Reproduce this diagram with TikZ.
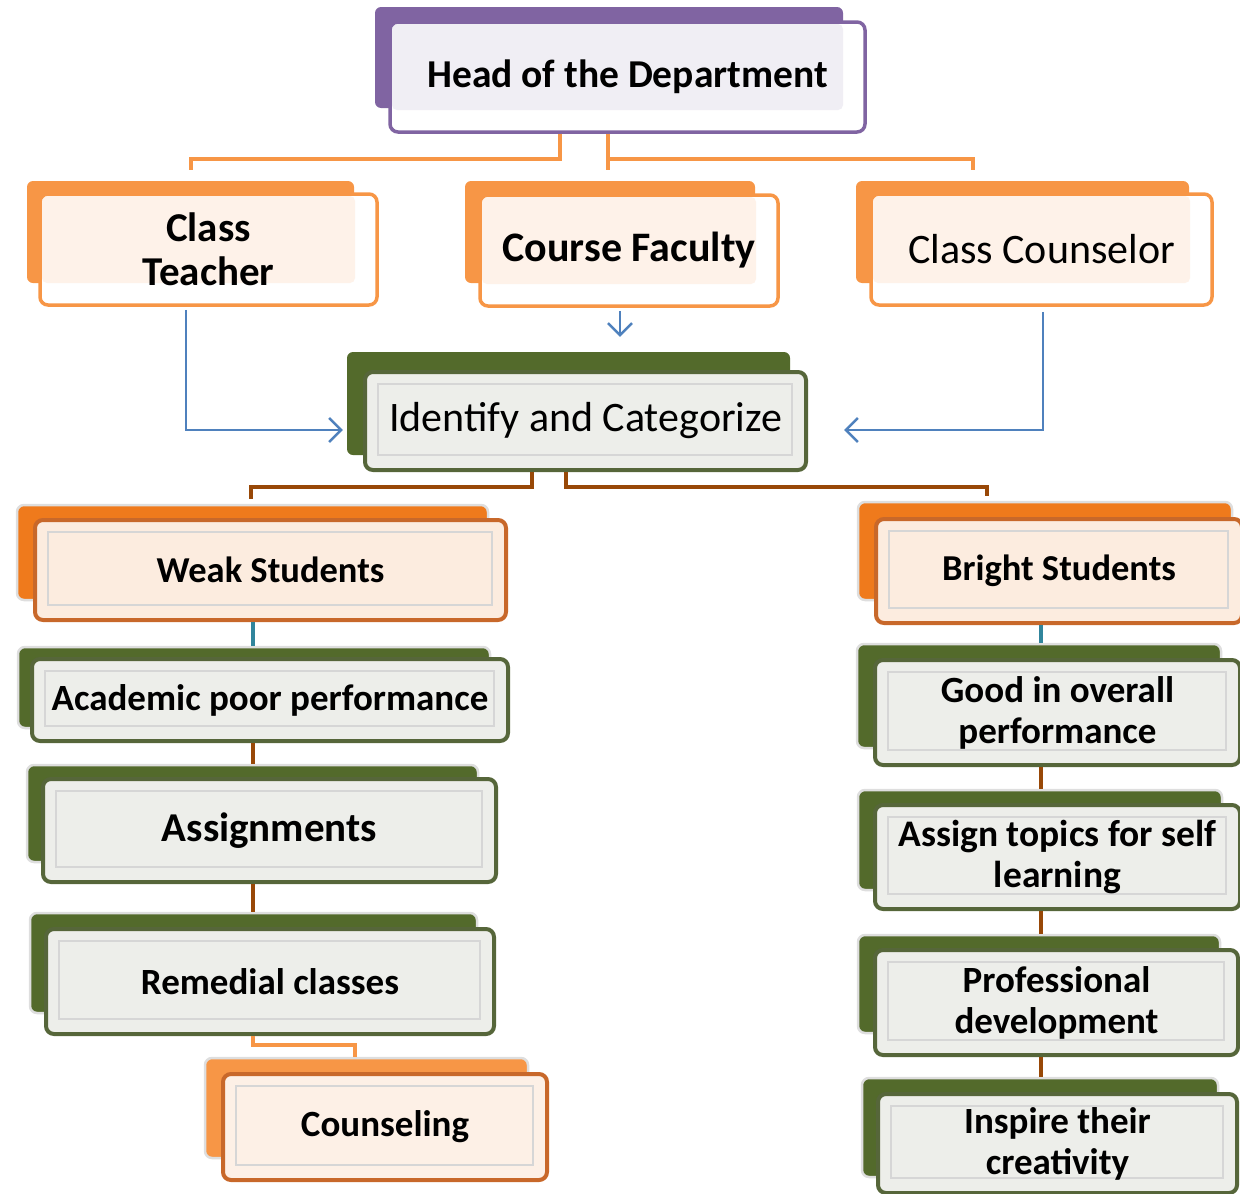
\documentclass[tikz,border=0pt]{standalone}
\usepackage{fontspec}
\setmainfont{Carlito}
\usetikzlibrary{arrows.meta}

\definecolor{hodpurple}{HTML}{8064A2}
\definecolor{hodtint}{HTML}{F0EEF4}
\definecolor{staforange}{HTML}{F79646}
\definecolor{staftint}{HTML}{FEF2E9}
\definecolor{linkblue}{HTML}{4F81BD}
\definecolor{leafgreen}{HTML}{536A2B}
\definecolor{leafedge}{HTML}{56663A}
\definecolor{leaffill}{HTML}{EDEEEA}
\definecolor{grouporange}{HTML}{EF7A1C}
\definecolor{groupedge}{HTML}{C8682A}
\definecolor{groupfill}{HTML}{FCECDF}
\definecolor{cnslfill}{HTML}{FDF0E6}
\definecolor{linkbrown}{HTML}{984807}
\definecolor{linkteal}{HTML}{31859C}

\tikzset{
  backplate/.style={fill=#1, rounded corners=6pt, inner sep=0pt},
  bevelplate/.style={fill=#1, draw=black!13, line width=2.5pt, rounded corners=7pt, inner sep=0pt},
  topface/.style 2 args={draw=#1, line width=3.5pt, fill=white, rounded corners=8pt, inner sep=0pt,
    path picture={\fill[#2, rounded corners=5pt] ([shift={(2pt,-2pt)}]path picture bounding box.north west)
      rectangle ([shift={(-22pt,22pt)}]path picture bounding box.south east);}},
  lowface/.style 2 args={draw=#1, line width=4pt, fill=#2, rounded corners=8pt, inner sep=0pt,
    path picture={\draw[black!16, line width=1.3pt, sharp corners] ([shift={(13pt,-12pt)}]path picture bounding box.north west)
      rectangle ([shift={(-14pt,15pt)}]path picture bounding box.south east);}},
  boldtxt/.style={font=\bfseries\fontsize{#1}{41}\selectfont, align=center},
  plaintxt/.style={font=\fontsize{#1}{41}\selectfont, align=center},
  hodlink/.style={draw=staforange, line width=4pt},
  arrowlink/.style={draw=linkblue, line width=2.5pt, -{Straight Barb[length=12pt,width=24pt]}},
  brownlink/.style={draw=linkbrown, line width=4pt},
  teallink/.style={draw=linkteal, line width=4pt}
}

\begin{document}
\begin{tikzpicture}[x=1pt,y=-1pt]
\useasboundingbox (0,0) rectangle (1240,1194);

% head of the department
\node[backplate=hodpurple, minimum width=468pt, minimum height=101pt] (headb) at (609,57.5) {};
\node[topface={hodpurple}{hodtint}, minimum width=475pt, minimum height=110pt, boldtxt=39.5] (head) at (627.5,77) {Head of the Department};

% staff row
\node[backplate=staforange, minimum width=327pt, minimum height=102pt] (teacherb) at (190.5,232) {};
\node[topface={staforange}{staftint}, minimum width=337pt, minimum height=111pt, font=\bfseries\fontsize{41}{44}\selectfont, align=center] (teacher) at (208.5,249.5) {Class\\Teacher};
\node[backplate=staforange, minimum width=290pt, minimum height=102pt] (courseb) at (610,232) {};
\node[topface={staforange}{staftint}, minimum width=298pt, minimum height=111pt, boldtxt=42] (course) at (629,250.5) {Course Faculty};
\node[backplate=staforange, minimum width=333pt, minimum height=102pt] (counselb) at (1022.5,232) {};
\node[topface={staforange}{staftint}, minimum width=341pt, minimum height=111pt, plaintxt=42] (counsel) at (1041.5,249.5) {Class Counselor};

% identify
\node[backplate=leafgreen, minimum width=443pt, minimum height=103pt] (identb) at (568.5,403.5) {};
\node[lowface={leafedge}{leaffill}, minimum width=441pt, minimum height=98pt, plaintxt=42] (ident) at (585.5,421) {Identify and Categorize};

% weak students column
\node[bevelplate=grouporange, minimum width=471pt, minimum height=95pt] (weakb) at (252.5,552.5) {};
\node[lowface={groupedge}{groupfill}, minimum width=471pt, minimum height=100pt, boldtxt=36.5] (weak) at (270.5,570) {Weak Students};
\node[bevelplate=leafgreen, minimum width=472pt, minimum height=81pt] (acadb) at (254,687.5) {};
\node[lowface={leafedge}{leaffill}, minimum width=476pt, minimum height=82pt, boldtxt=37] (acad) at (270,700) {Academic poor performance};
\node[bevelplate=leafgreen, minimum width=451pt, minimum height=97pt] (assignb) at (252.5,813.5) {};
\node[lowface={leafedge}{leaffill}, minimum width=453pt, minimum height=103pt, boldtxt=41] (assign) at (269.5,830.5) {Assignments};
\node[bevelplate=leafgreen, minimum width=447pt, minimum height=100pt] (remedb) at (253.5,963) {};
\node[lowface={leafedge}{leaffill}, minimum width=448pt, minimum height=105pt, boldtxt=37] (remed) at (270,981.5) {Remedial classes};
\node[bevelplate=staforange, minimum width=323pt, minimum height=100pt] (cnslb) at (366.5,1108) {};
\node[lowface={groupedge}{cnslfill}, minimum width=324pt, minimum height=106pt, boldtxt=37] (cnsl) at (385,1127) {Counseling};

% bright students column
\node[bevelplate=grouporange, minimum width=374pt, minimum height=98pt] (brightb) at (1045,551) {};
\node[lowface={groupedge}{groupfill}, minimum width=366pt, minimum height=104pt, boldtxt=36.5] (bright) at (1059,571) {Bright Students};
\node[bevelplate=leafgreen, minimum width=364pt, minimum height=104pt] (goodb) at (1039,696) {};
\node[lowface={leafedge}{leaffill}, minimum width=365pt, minimum height=105pt, boldtxt=37] (good) at (1057.5,712.5) {Good in overall\\performance};
\node[bevelplate=leafgreen, minimum width=364pt, minimum height=100pt] (selfb) at (1040,840) {};
\node[lowface={leafedge}{leaffill}, minimum width=365pt, minimum height=104pt, boldtxt=37.5] (self) at (1057.5,857) {Assign topics for self\\learning};
\node[bevelplate=leafgreen, minimum width=362pt, minimum height=98pt] (profb) at (1039,984) {};
\node[lowface={leafedge}{leaffill}, minimum width=363pt, minimum height=105pt, boldtxt=37] (prof) at (1056.5,1002.5) {Professional\\development};
\node[bevelplate=leafgreen, minimum width=356pt, minimum height=99pt] (inspb) at (1040,1127.5) {};
\node[lowface={leafedge}{leaffill}, minimum width=359pt, minimum height=99pt, boldtxt=37] (insp) at (1057.5,1143.5) {Inspire their\\creativity};

\coordinate (lcol) at (253,0);
\coordinate (rcol) at (1041,0);

% head to staff
\draw[hodlink] ([xshift=-67.5pt]head.south) -- ++(0,25) -| ([yshift=11pt]teacherb.north);
\draw[hodlink] ([xshift=-19.5pt]head.south) -- ([xshift=-2pt,yshift=11pt]courseb.north);
\draw[hodlink] ([xshift=-19.5pt]head.south) ++(0,25) -| ([xshift=-49.5pt,yshift=11pt]counselb.north);

% staff to identify
\draw[arrowlink] ([xshift=-22.5pt,yshift=-3pt]teacher.south) |- ([xshift=-4pt,yshift=-26.5pt]identb.west);
\draw[arrowlink] ([xshift=-9pt,yshift=-3pt]course.south) -- ([xshift=51.5pt,yshift=15pt]identb.north);
\draw[arrowlink] ([xshift=1.5pt,yshift=-5pt]counsel.south) |- ([xshift=36pt,yshift=-9pt]ident.east);

% identify to groups
\draw[brownlink] ([xshift=-53.5pt]ident.south) -- ++(0,15) -| ([xshift=-1.5pt,yshift=5pt]weakb.north);
\draw[brownlink] ([xshift=-19.5pt]ident.south) -- ++(0,15) -| ([xshift=-58pt,yshift=5pt]brightb.north);

% columns
\draw[teallink] (weak.south -| lcol) -- (acadb.north -| lcol);
\draw[brownlink] (acad.south -| lcol) -- (assignb.north -| lcol);
\draw[brownlink] (assign.south -| lcol) -- (remedb.north -| lcol);
\draw[hodlink] (remed.south -| lcol) -- ++(0,9) -| ([xshift=-11.5pt]cnslb.north);
\draw[teallink] (bright.south -| rcol) -- (goodb.north -| rcol);
\draw[brownlink] (good.south -| rcol) -- (selfb.north -| rcol);
\draw[brownlink] (self.south -| rcol) -- (profb.north -| rcol);
\draw[brownlink] (prof.south -| rcol) -- (inspb.north -| rcol);

\end{tikzpicture}
\end{document}
